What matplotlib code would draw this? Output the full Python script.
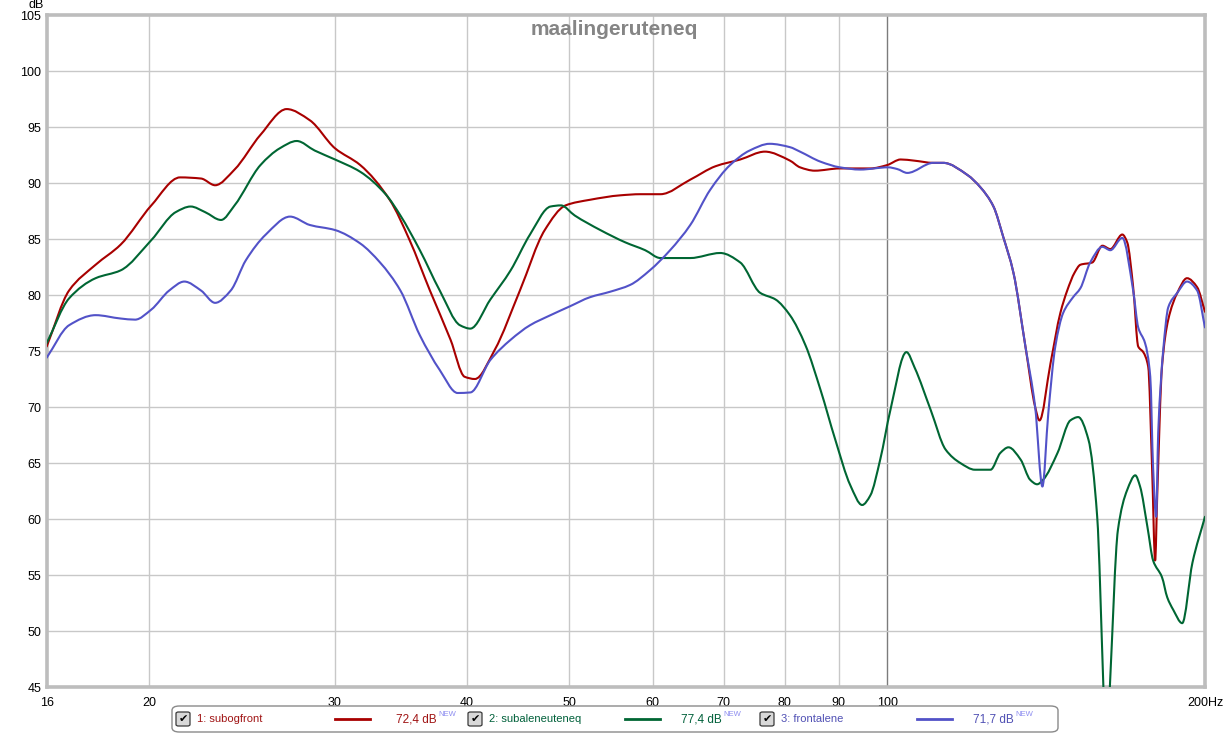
import matplotlib
matplotlib.use("Agg")
import numpy as np
import matplotlib.pyplot as plt
from matplotlib.patches import FancyBboxPatch, PathPatch
from matplotlib.path import Path
from matplotlib.lines import Line2D
from matplotlib.ticker import FixedLocator, NullLocator

plt.rcParams['font.family'] = ['Liberation Sans', 'DejaVu Sans']

TITLE = "maalingeruteneq"

RED_F = [16, 16.8, 17.8, 18.8, 20.1, 21.4, 22.4, 23.1, 24.1, 25.5, 27.0, 28.4, 30.0, 31.7,
         33.8, 35.3, 36.9, 38.6, 39.8, 40.7, 42.5, 44.9, 47.4, 49.6, 52.3, 55.9, 58.4, 61.0,
         65.1, 68.8, 72.6, 76.6, 80.9, 82.7, 85.4, 90.2, 96.4, 100.0, 103.0, 106.0, 110.6,
         113.0, 119.2, 122.6, 126.1, 128.8, 131.7, 135.2, 138.1, 139.4, 142.8, 145.9, 148.1,
         150.5, 152.4, 156.4, 159.9, 162.7, 167.0, 168.8, 171.0, 172.9, 174.8, 176.7, 178.2,
         179.4, 180.2, 182.1, 184.6, 188.3, 192.3, 196.6, 200]
RED_DB = [75.4, 80.4, 82.7, 84.5, 88.0, 90.5, 90.4, 89.8, 91.2, 94.3, 96.6, 95.6, 93.1, 91.6,
          88.5, 84.9, 80.4, 76.0, 72.7, 72.5, 75.1, 80.4, 85.8, 88.0, 88.5, 88.9, 89.0, 89.0,
          90.3, 91.5, 92.1, 92.8, 92.0, 91.4, 91.1, 91.3, 91.3, 91.6, 92.1, 92.0, 91.8,
          91.8, 90.7, 89.6, 87.9, 85.2, 82.0, 75.4, 70.0, 68.8, 73.9, 78.4, 80.4,
          82.0, 82.7, 82.9, 84.4, 84.1, 85.4, 84.7, 80.7, 75.4, 74.9, 73.6, 64.6,
          56.3, 62.0, 73.6, 77.8, 80.2, 81.5, 80.7, 78.5]

GREEN_F = [16, 16.8, 17.8, 18.8, 20.1, 21.2, 21.9, 22.6, 23.4, 24.1, 25.5, 26.6, 27.6, 28.7,
           30.0, 31.7, 33.5, 34.6, 36.1, 37.7, 39.4, 40.3, 42.1, 44.0, 45.9, 48.0, 49.1, 50.6,
           53.5, 56.5, 59.0, 61.0, 65.1, 69.5, 72.6, 75.8, 78.4, 80.9, 83.7, 86.5, 89.3, 92.3,
           94.7, 96.4, 98.5, 100.7, 104.3, 106.2, 110.0, 113.6, 117.3, 121.1, 125.3, 128.0,
           130.3, 133.8, 136.6, 138.7, 140.5, 145.0, 149.1, 151.7, 155.1, 158.1, 160.2, 161.2,
           162.6, 165.4, 168.8, 171.8, 173.6, 176.4, 178.6, 182.1, 184.2, 186.6, 190.3, 194.6, 200]
GREEN_DB = [75.7, 79.7, 81.5, 82.2, 84.9, 87.4, 87.9, 87.4, 86.7, 88.0, 91.6, 93.1, 93.75, 92.9,
            92.1, 91.0, 89.0, 87.1, 84.0, 80.4, 77.3, 77.0, 79.6, 82.2, 85.4, 87.9, 88.0, 87.1,
            85.8, 84.7, 84.0, 83.3, 83.3, 83.75, 82.9, 80.2, 79.6, 78.2, 75.5, 71.5, 67.1, 63.0,
            61.25, 62.1, 65.3, 69.7, 74.9, 73.5, 69.7, 66.2, 65.0, 64.4, 64.4, 65.9,
            66.4, 65.3, 63.5, 63.1, 63.5, 65.9, 68.8, 69.1, 67.1, 60.2, 45.4, 38.0,
            45.4, 59.0, 62.6, 63.9, 62.9, 59.3, 56.3, 54.8, 53.0, 51.9, 50.7, 56.1, 60.2]

BLUE_F = [16, 16.8, 17.8, 18.8, 19.4, 20.1, 20.9, 21.6, 22.4, 23.1, 23.9, 24.7, 25.8, 27.2,
          28.4, 30.0, 31.7, 33.1, 34.6, 36.1, 37.7, 39.2, 40.3, 42.1, 44.0, 45.9, 48.0, 50.1,
          52.3, 54.7, 57.1, 59.6, 62.3, 65.1, 68.0, 71.0, 74.1, 77.4, 80.9, 82.7, 86.5, 90.2,
          94.3, 100.2, 102.2, 104.5, 110.6, 113.0, 119.2, 122.6, 126.1, 128.8, 131.7, 135.2,
          138.1, 140.3, 142.1, 144.3, 146.8, 150.0, 152.4, 155.7, 159.9, 162.7, 167.0, 171.0,
          172.9, 175.5, 177.5, 178.6, 179.8, 180.6, 182.6, 184.6, 188.3, 192.3, 196.6, 200]
BLUE_DB = [74.4, 77.3, 78.2, 77.9, 77.8, 78.7, 80.4, 81.2, 80.4, 79.3, 80.4, 83.1, 85.4, 87.0,
           86.25, 85.8, 84.6, 82.9, 80.4, 76.4, 73.3, 71.25, 71.3, 74.2, 76.0, 77.3, 78.2, 79.0,
           79.8, 80.3, 80.9, 82.2, 84.0, 86.25, 89.4, 91.6, 92.9, 93.5, 93.2, 92.8, 91.9, 91.4,
           91.2, 91.4, 91.25, 90.9, 91.8, 91.8, 90.7, 89.6, 87.9, 85.2, 82.0, 75.4,
           70.0, 62.9, 69.4, 75.4, 78.4, 79.8, 80.6, 82.9, 84.3, 84.0, 85.1, 80.4,
           77.1, 75.7, 72.7, 64.6, 60.2, 67.7, 75.1, 78.9, 80.2, 81.2, 80.4, 77.1]

X_TICKS = [16, 20, 30, 40, 50, 60, 70, 80, 90, 100, 200]
X_LABELS = ["16", "20", "30", "40", "50", "60", "70", "80", "90", "100", "200Hz"]
Y_TICKS = [45, 50, 55, 60, 65, 70, 75, 80, 85, 90, 95, 100, 105]

NAMES = ["1: subogfront", "2: subaleneuteneq", "3: frontalene"]
LEVELS = ["72,4 dB", "77,4 dB", "71,7 dB"]
LINE_COLORS = ["#a80000", "#006633", "#5252c8"]
TEXT_COLORS = ["#a01414", "#00603a", "#5050b4"]


def smooth_path(freqs, vals):
    """Monotone cubic (PCHIP-style) Bezier path through the read points,
    with control points placed in log-frequency space."""
    lx = np.log10(np.asarray(freqs, float))
    y = np.asarray(vals, float)
    h = np.diff(lx)
    d = np.diff(y) / h
    n = len(lx)
    m = np.zeros(n)
    m[0], m[-1] = d[0], d[-1]
    for i in range(1, n - 1):
        if d[i - 1] * d[i] <= 0:
            m[i] = 0.0
        else:
            w1 = 2 * h[i] + h[i - 1]
            w2 = h[i] + 2 * h[i - 1]
            m[i] = (w1 + w2) / (w1 / d[i - 1] + w2 / d[i])
    verts = [(10 ** lx[0], y[0])]
    codes = [Path.MOVETO]
    for k in range(n - 1):
        c1 = (10 ** (lx[k] + h[k] / 3), y[k] + m[k] * h[k] / 3)
        c2 = (10 ** (lx[k + 1] - h[k] / 3), y[k + 1] - m[k + 1] * h[k] / 3)
        verts += [c1, c2, (10 ** lx[k + 1], y[k + 1])]
        codes += [Path.CURVE4] * 3
    return Path(verts, codes)


W, H = 1229, 735
fig = plt.figure(figsize=(W / 100, H / 100), dpi=100)
fig.patch.set_facecolor("white")


def fx(px):
    return px / W


def fy(py):
    return 1 - py / H


ax = fig.add_axes([fx(46.7), fy(687), fx(1205) - fx(46.7), fy(15) - fy(687)])
ax.set_xscale("log")
ax.set_xlim(16, 200)
ax.set_ylim(45, 105)

for f in [20, 30, 40, 50, 60, 70, 80, 90]:
    ax.axvline(f, color="#c8c8c8", lw=1.0, zorder=1)
ax.axvline(100, color="#7c7c7c", lw=1.0, zorder=1)
for yv in Y_TICKS[1:-1]:
    ax.axhline(yv, color="#c8c8c8", lw=1.0, zorder=1)

series = [(RED_F, RED_DB, 3), (GREEN_F, GREEN_DB, 3), (BLUE_F, BLUE_DB, 4)]
for (fs, vs, z), col in zip(series, LINE_COLORS):
    patch = PathPatch(smooth_path(fs, vs), facecolor="none", edgecolor=col,
                      lw=1.5, zorder=z, joinstyle="round", capstyle="round")
    ax.add_patch(patch)

ax.xaxis.set_major_locator(FixedLocator(X_TICKS))
ax.xaxis.set_minor_locator(NullLocator())
ax.set_xticklabels(X_LABELS)
ax.set_yticks(Y_TICKS)
ax.set_yticklabels([str(v) for v in Y_TICKS])
ax.tick_params(axis="both", length=0, labelsize=9, colors="black")
ax.tick_params(axis="x", pad=7)
ax.tick_params(axis="y", pad=4)

for s in ax.spines.values():
    s.set_color("#bdbdbd")
    s.set_linewidth(2.6)

ax.text(0.4898, 0.992, TITLE, transform=ax.transAxes, ha="center", va="top",
        fontsize=15, fontweight="bold", color="#858585", zorder=5)

fig.text(fx(36), fy(11), "dB", ha="center", va="bottom", fontsize=9)

# legend box
box = FancyBboxPatch((fx(172), fy(732)), fx(1058) - fx(172), fy(706) - fy(732),
                     boxstyle="round,pad=0,rounding_size=0.006",
                     transform=fig.transFigure, facecolor="white",
                     edgecolor="#8a8a8a", lw=1.0)
fig.patches.append(box)

yc = fy(719)
check_x = [183, 475, 767]
name_x = [197, 489, 781]
line_x = [(335, 370), (625, 660), (917, 952)]
lev_x = [437, 722, 1014]
for i in range(3):
    cb = FancyBboxPatch((fx(check_x[i] - 7), fy(726)), fx(14), fy(712) - fy(726),
                        boxstyle="round,pad=0,rounding_size=0.002",
                        transform=fig.transFigure, facecolor="#d8d8d8",
                        edgecolor="#3a3a3a", lw=0.9)
    fig.patches.append(cb)
    fig.text(fx(check_x[i]), yc, "\u2714", ha="center", va="center", fontsize=8,
             color="black", family="DejaVu Sans")
    fig.text(fx(name_x[i]), yc, NAMES[i], ha="left", va="center", fontsize=8,
             color=TEXT_COLORS[i])
    fig.lines.append(Line2D([fx(line_x[i][0]), fx(line_x[i][1])], [yc, yc],
                            transform=fig.transFigure, color=LINE_COLORS[i], lw=2.0))
    fig.text(fx(lev_x[i]), yc, LEVELS[i], ha="right", va="center", fontsize=8.5,
             color=TEXT_COLORS[i])
    fig.text(fx(lev_x[i] + 1), fy(714), "NEW", ha="left", va="center", fontsize=5.5,
             color="#8c8cf0")

fig.savefig("out.png", dpi=100, facecolor="white")
